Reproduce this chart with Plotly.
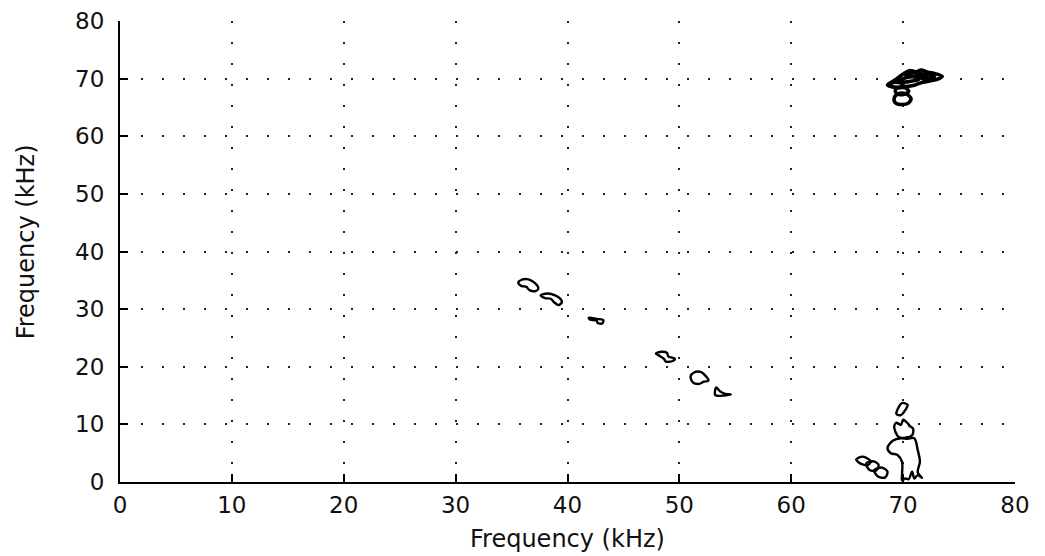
import plotly.graph_objects as go

# Axis ticks
x_ticks = [0, 10, 20, 30, 40, 50, 60, 70, 80]
y_ticks = [0, 10, 20, 30, 40, 50, 60, 70, 80]
x_title = "Frequency (kHz)"
y_title = "Frequency (kHz)"

# Contour outlines (x = frequency kHz, y = frequency kHz)
# cluster near (71, 70)
c1_x = [68.6, 69.3, 70.0, 70.6, 71.2, 71.6, 72.2, 72.8, 73.5, 73.2, 72.4, 71.6, 70.9, 70.2, 69.4, 68.6]
c1_y = [68.9, 69.8, 70.8, 71.4, 71.2, 71.5, 71.1, 70.9, 70.4, 70.0, 69.6, 69.3, 68.8, 68.6, 68.5, 68.9]
c2_x = [69.6, 70.3, 71.0, 71.4, 70.8, 70.0, 69.6]
c2_y = [69.6, 70.2, 70.3, 69.9, 69.6, 69.4, 69.6]
c3_x = [69.4, 70.2, 70.5, 70.1, 69.5, 69.3, 69.4]
c3_y = [68.3, 68.4, 67.8, 67.3, 67.3, 67.8, 68.3]
c4_x = [68.7, 69.3, 70.0, 69.8, 69.2, 68.7]
c4_y = [69.0, 69.4, 69.0, 68.5, 68.5, 69.0]
c5_x = [71.4, 72.0, 72.8, 72.4, 71.6, 71.4]
c5_y = [70.5, 70.8, 70.4, 70.1, 70.1, 70.5]
c6_x = [69.5, 70.2, 70.7, 70.5, 69.9, 69.3, 69.2, 69.5]
c6_y = [67.3, 67.4, 66.6, 65.8, 65.5, 65.8, 66.6, 67.3]
c7_x = [70.2, 70.8, 71.5, 72.2, 71.6, 70.9, 70.2]
c7_y = [70.6, 71.0, 70.9, 70.6, 70.4, 70.4, 70.6]

# diagonal chain
a_x = [35.6, 35.9, 36.4, 36.9, 37.2, 37.4, 37.1, 36.6, 36.3, 35.9, 35.6]
a_y = [34.6, 35.1, 35.2, 34.8, 34.3, 33.6, 33.1, 33.3, 33.9, 34.0, 34.6]
b_x = [37.6, 38.2, 38.9, 39.3, 39.5, 39.2, 38.8, 38.5, 38.0, 37.6]
b_y = [32.4, 32.7, 32.4, 31.9, 31.2, 30.7, 31.2, 31.8, 31.9, 32.4]
c_x = [41.9, 42.6, 43.2, 43.1, 42.7, 42.6, 42.0, 41.9]
c_y = [28.5, 28.3, 28.1, 27.5, 27.6, 28.0, 28.2, 28.5]
d_x = [47.9, 48.4, 48.9, 49.0, 49.6, 49.4, 48.8, 48.6, 48.3, 47.9]
d_y = [22.3, 22.6, 22.4, 21.8, 21.4, 21.0, 20.9, 21.4, 21.8, 22.3]
e_x = [51.0, 51.3, 51.9, 52.3, 52.6, 52.2, 51.7, 51.2, 51.0]
e_y = [18.3, 19.0, 19.1, 18.5, 17.6, 17.4, 17.0, 17.3, 18.3]
f_x = [53.3, 53.6, 54.1, 54.6, 54.0, 53.2, 53.3]
f_y = [16.4, 15.8, 15.3, 15.2, 15.0, 15.1, 16.4]

# cluster near (70, 0-14)
g_x = [69.5, 69.9, 70.4, 70.2, 69.8, 69.4, 69.5]
g_y = [12.6, 13.7, 13.4, 12.5, 11.6, 11.8, 12.6]
h_x = [69.2, 69.4, 69.8, 70.0, 70.4, 70.6, 70.9, 70.8, 70.2, 69.6, 69.2]
h_y = [9.6, 10.3, 9.9, 10.8, 10.2, 9.7, 9.2, 8.1, 7.7, 7.8, 9.6]
i_x = [69.1, 68.6, 68.9, 69.5, 69.9, 69.9, 69.9, 70.2, 70.5, 70.8, 71.0, 71.3, 71.7, 71.3, 71.5, 71.3, 71.0, 70.4, 69.8, 69.1]
i_y = [7.2, 5.9, 5.0, 4.7, 3.5, 1.2, 0.3, 0.6, 0.5, 1.8, 0.6, 1.2, 0.7, 1.7, 3.5, 5.6, 7.6, 7.5, 7.6, 7.2]
j_x = [65.8, 66.4, 67.1, 66.9, 66.3, 65.8]
j_y = [3.9, 4.4, 3.6, 3.0, 3.1, 3.9]
k_x = [66.7, 67.3, 67.8, 67.6, 67.0, 66.7]
k_y = [3.2, 3.6, 3.0, 2.0, 2.1, 3.2]
l_x = [67.4, 68.1, 68.6, 68.4, 67.8, 67.4]
l_y = [2.0, 2.5, 1.8, 0.8, 0.9, 2.0]

contours = [
    (c1_x, c1_y), (c2_x, c2_y), (c3_x, c3_y), (c4_x, c4_y), (c5_x, c5_y), (c6_x, c6_y), (c7_x, c7_y),
    (a_x, a_y), (b_x, b_y), (c_x, c_y), (d_x, d_y), (e_x, e_y), (f_x, f_y),
    (g_x, g_y), (h_x, h_y), (i_x, i_y), (j_x, j_y), (k_x, k_y), (l_x, l_y),
]

fig = go.Figure()
for idx, (cx, cy) in enumerate(contours):
    fig.add_trace(go.Scatter(
        x=cx, y=cy, mode="lines",
        line=dict(color="black", width=3.6 if idx < 7 else 2.4, shape="spline", smoothing=0.9),
        showlegend=False, hoverinfo="skip",
    ))

tick_font = dict(family="DejaVu Sans, Verdana, sans-serif", size=23, color="#111")
title_font = dict(family="DejaVu Sans, Verdana, sans-serif", size=24, color="#111")

axis_common = dict(
    range=[0, 80], showline=True, linecolor="black", linewidth=2,
    ticks="inside", ticklen=8, tickwidth=2, tickcolor="black",
    showgrid=True, gridcolor="#222", gridwidth=2, griddash="2px,19px",
    zeroline=False, mirror=False, tickfont=tick_font, automargin=False,
)

fig.update_layout(
    width=1045, height=556,
    margin=dict(l=112, r=38, t=13, b=82),
    paper_bgcolor="white", plot_bgcolor="white",
    font=tick_font,
    xaxis=dict(**axis_common, tickvals=x_ticks, ticklabelstandoff=1),
    yaxis=dict(**axis_common, tickvals=y_ticks, ticklabelstandoff=9),
    annotations=[
        dict(text=x_title, xref="paper", yref="paper", x=0.5, y=-0.124,
             xanchor="center", yanchor="middle", showarrow=False, font=title_font),
        dict(text=y_title, xref="paper", yref="paper", x=-0.105, y=0.52,
             xanchor="center", yanchor="middle", showarrow=False, font=title_font,
             textangle=-90),
    ],
)

fig.write_html("out.html")
